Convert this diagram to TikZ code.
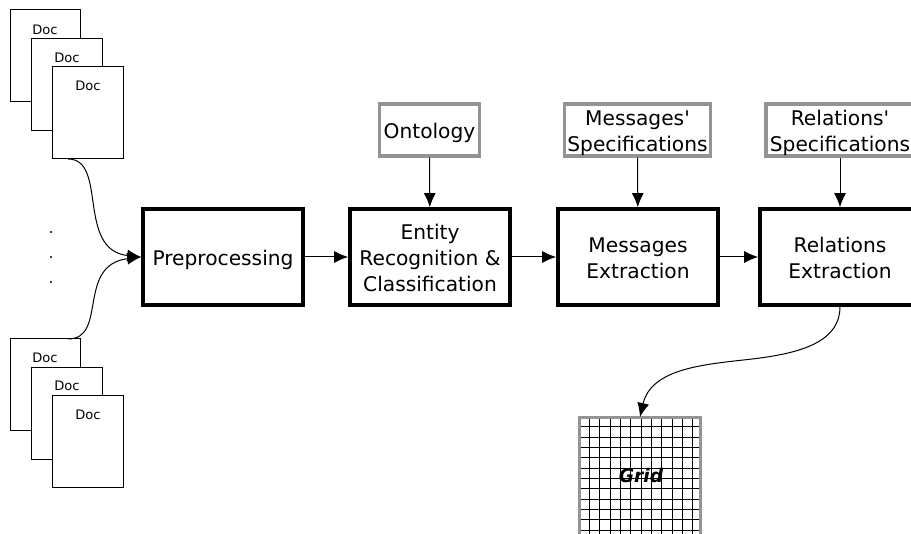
\documentclass[tikz,border=0pt]{standalone}
\usepackage{fontspec}
\setmainfont{DejaVu Sans}[Ligatures=TeXOff]
\usetikzlibrary{arrows.meta}
\tikzset{
  x=0.75pt,y=-0.75pt,
  proc/.style={draw=black,line width=2.7pt,fill=white,minimum width=120pt,minimum height=72pt,inner sep=0pt,anchor=center},
  res/.style={draw=gray!85,line width=2.4pt,fill=white,inner sep=0pt,anchor=center},
  boxtext/.style={align=center,font=\fontsize{15.15}{19.4}\selectfont,inner sep=0pt,anchor=center},
  docbox/.style={draw=black,line width=0.75pt,fill=white,minimum width=53pt,minimum height=69pt,inner sep=0pt,anchor=center},
  doclab/.style={font=\fontsize{9.8}{12}\selectfont,inner sep=0pt,anchor=center},
  conn/.style={draw=black,line width=0.75pt,-{Latex[length=10.5pt,width=9pt]}},
  gridline/.style={draw=black,line width=0.75pt},
  dotmark/.style={circle,fill=black,inner sep=0pt,minimum size=1.6pt}
}
\begin{document}
\begin{tikzpicture}
\useasboundingbox (0,0) rectangle (911,534);
\clip (0,0) rectangle (911,534);
% documents, top
\node[docbox] (d1) at (45.5,56) {};
\node[docbox] (d2) at (67,84.5) {};
\node[docbox] (d3) at (88,113) {};
\node[doclab] (l1) at (45,30) {Doc};
\node[doclab] (l2) at (67,58) {Doc};
\node[doclab] (l3) at (88,86) {Doc};
% documents, bottom
\node[docbox] (e1) at (45.5,385) {};
\node[docbox] (e2) at (67,413.5) {};
\node[docbox] (e3) at (88,442) {};
\node[doclab] (m1) at (45,358) {Doc};
\node[doclab] (m2) at (67,386) {Doc};
\node[doclab] (m3) at (88,415) {Doc};
% dots
\node[dotmark] (p1) at (51,232) {};
\node[dotmark] (p2) at (51,257) {};
\node[dotmark] (p3) at (51,282) {};
% process boxes
\node[proc] (pre) at (223,257) {};
\node[proc] (ent) at (430,257) {};
\node[proc] (msg) at (638,257) {};
\node[proc] (rel) at (840,257) {};
\node[boxtext] (tpre) at (223,259.5) {Preprocessing};
\node[boxtext] (tent) at (430,258) {Entity\\Recognition \&\\Classification};
\node[boxtext] (tmsg) at (638,258) {Messages\\Extraction};
\node[boxtext] (trel) at (840,258) {Relations\\Extraction};
% resources
\node[res,minimum width=75pt,minimum height=39pt] (ont) at (429.5,130) {};
\node[res,minimum width=110pt,minimum height=39pt] (ms) at (637.5,130) {};
\node[res,minimum width=111pt,minimum height=39pt] (rs) at (840,130) {};
\node[boxtext] (tont) at (429.5,133) {Ontology};
\node[boxtext] (tms) at (637.5,133) {Messages'\\Specifications};
\node[boxtext] (trs) at (840,133) {Relations'\\Specifications};
% grid
\coordinate (gt) at (640,417);
\foreach \gx in {589.5,599.5,610.5,620.5,630.5,641.5,651.5,661.5,672.5,682.5,692.5}
  \draw[gridline] (\gx,417) -- (\gx,534);
\foreach \gy in {426.5,437.5,447.5,457.5,468.5,478.5,488.5,499.5,509.5,519.5,530.5}
  \draw[gridline] (579,\gy) -- (701,\gy);
\draw[gray!85,line width=2.4pt] (579.5,540) -- (579.5,417.5) -- (700.5,417.5) -- (700.5,540);
\node[font=\fontsize{14}{16}\selectfont\bfseries\itshape,inner sep=0pt] (g) at (641,476) {Grid};
% connectors
\coordinate (c1) at (68,159);
\coordinate (c2) at (68,339);
\coordinate (cm) at (760,358);
\draw[conn] (c1) .. controls (108,159) and (76,250) .. (pre.west);
\draw[conn] (c2) .. controls (108,339) and (76,265) .. (pre.west);
\draw[conn] (pre) -- (ent);
\draw[conn] (ent) -- (msg);
\draw[conn] (msg) -- (rel);
\draw[conn] (ont) -- (ent);
\draw[conn] (ms) -- (msg);
\draw[conn] (rs) -- (rel);
\draw[conn] (rel.south) .. controls (840,340) and (805,352) .. (cm) .. controls (715,364) and (652,365) .. (gt);
\end{tikzpicture}
\end{document}
